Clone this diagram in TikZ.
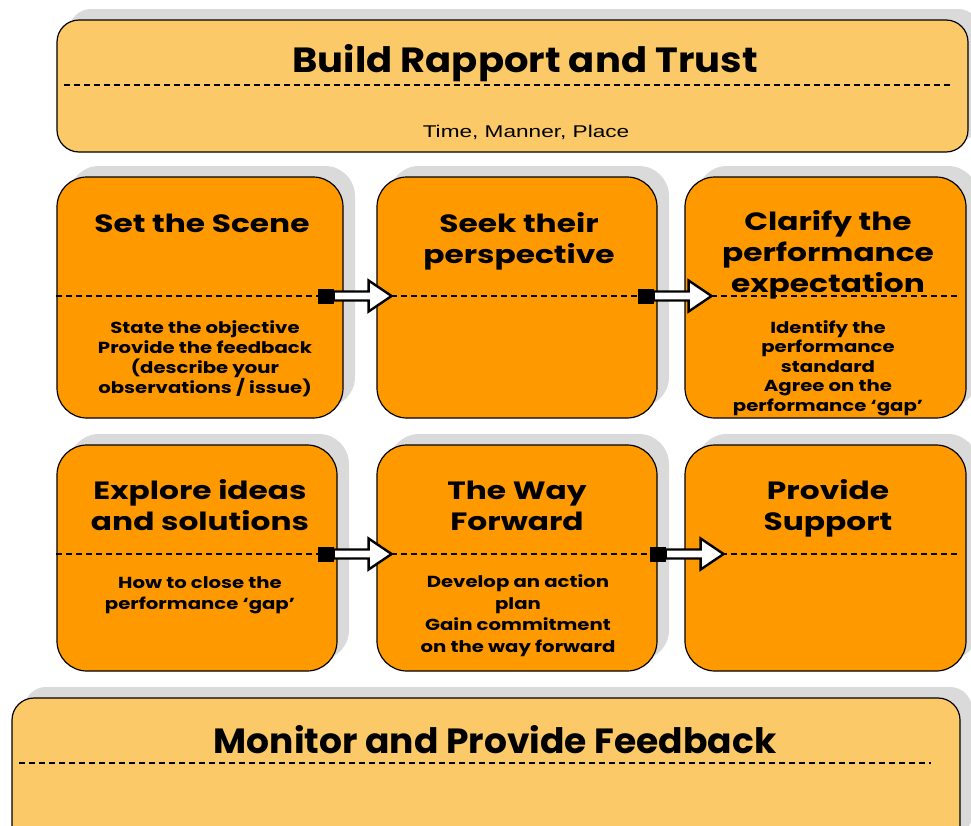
\documentclass[tikz,border=0pt]{standalone}
\usepackage{fontspec}
\setmainfont{Poppins}
\newfontfamily\gfont{Poppins}[FakeStretch=1.25]
\newfontfamily\bfont{Poppins}[FakeStretch=1.23]
\newfontfamily\cfont{Poppins}[FakeStretch=1.1]
\newfontfamily\dfont{Poppins}[FakeStretch=1.03]
\newfontfamily\afont{Liberation Sans}[FakeStretch=1.33]
\usetikzlibrary{calc,shadows}
\definecolor{boxorange}{RGB}{255,153,0}
\definecolor{boxlight}{RGB}{251,201,103}
\definecolor{shadowgray}{RGB}{218,218,218}
\begin{document}
\begin{tikzpicture}[x=1pt,y=-1pt,
  shadowed/.style={general shadow={shadow xshift=12pt,shadow yshift=11pt,fill=shadowgray}},
  obox/.style={draw=black,line width=1.2pt,fill=boxorange,rounded corners=30pt,shadowed,inner sep=0pt},
  lbox/.style={draw=black,line width=1.2pt,fill=boxlight,rounded corners=22pt,shadowed,inner sep=0pt},
  dline/.style={line width=1.1pt,dash pattern=on 6pt off 4pt},
  ttl/.style={font=\gfont\bfseries\fontsize{25}{31}\selectfont,align=center,anchor=base,inner sep=0pt},
  bdy/.style={font=\bfont\bfseries\fontsize{16}{20}\selectfont,align=center,anchor=base,inner sep=0pt},
  tailbox/.style={fill=black},
  shaft/.style={fill=white,draw=black,line width=2.4pt,line join=miter},
]
\clip (0,0) rectangle (971,825);
\fill[white] (0,0) rectangle (971,825);

% boxes
\node[lbox,minimum width=911pt,minimum height=132pt] (top) at (512.5,86) {};
\node[obox,minimum width=286pt,minimum height=241pt] (A) at (200,297.5) {};
\node[obox,minimum width=280pt,minimum height=241pt] (B) at (517,297.5) {};
\node[obox,minimum width=281pt,minimum height=241pt] (C) at (825.5,297.5) {};
\node[obox,minimum width=280pt,minimum height=226pt] (D) at (197,558) {};
\node[obox,minimum width=280pt,minimum height=226pt] (E) at (517,558) {};
\node[obox,minimum width=281pt,minimum height=226pt] (F) at (825.5,558) {};
\node[lbox,minimum width=948pt,minimum height=150pt] (bot) at (486,773) {};

% dashed lines
\draw[dline] ($(top.west)+(8,-1)$) -- ($(top.east)+(-18,-1)$);
\draw[dline] ($(A.west)+(0,-1.5)$) -- ($(A.east)+(-26,-1.5)$);
\draw[dline] ($(B.west)+(15,-1.5)$) -- ($(B.east)+(-20,-1.5)$);
\draw[dline] ($(C.west)+(27,-1.5)$) -- ($(C.east)+(-6,-1.5)$);
\draw[dline] ($(D.west)+(0,-4)$) -- ($(D.east)+(-20,-4)$);
\draw[dline] ($(E.west)+(15,-4)$) -- ($(E.east)+(-7,-4)$);
\draw[dline] ($(F.west)+(37,-4)$) -- ($(F.east)+(-6,-4)$);
\draw[dline] ($(bot.west)+(8,-10)$) -- ($(bot.east)+(-30,-10)$);

% arrows
\foreach \s/\e/\dy/\dx in {A/B/-1.5/-26, B/C/-1.5/-20, D/E/-4/-20, E/F/-4/-8}{
  \coordinate (t) at ($(\s.east)+(\dx,\dy)$);
  \fill[tailbox] ($(t)+(0,-7.5)$) rectangle ($(t)+(16,7.5)$);
  \draw[shaft] ($(t)+(16,-4.5)$) -- ++(35,0) -- ++(0,-11) -- ++(23,15.5) -- ++(-23,15.5) -- ++(0,-11) -- ++(-35,0) -- cycle;
}

% texts
\node[font=\cfont\bfseries\fontsize{35}{40}\selectfont,anchor=base,inner sep=0pt] (ttop) at (525,72) {Build Rapport and Trust};
\node[font=\afont\fontsize{17}{20}\selectfont,anchor=base,inner sep=0pt] (stop) at (526,137) {Time, Manner, Place};

\node[ttl] (tA) at (202,232) {Set the Scene};
\node[bdy] (bA) at (205,393) {State the objective\\Provide the feedback\\(describe your\\observations / issue)};

\node[ttl] (tB) at (519,263) {Seek their\\perspective};

\node[ttl] (tC) at (828,292) {Clarify the\\performance\\expectation};
\node[bdy,font=\bfont\bfseries\fontsize{16}{19.5}\selectfont] (bC) at (828,411) {Identify the\\performance\\standard\\Agree on the\\performance ‘gap’};

\node[ttl] (tD) at (200,530) {Explore ideas\\and solutions};
\node[bdy,font=\bfont\bfseries\fontsize{16}{21}\selectfont] (bD) at (200,609) {How to close the\\performance ‘gap’};

\node[ttl] (tE) at (517,530) {The Way\\Forward};
\node[bdy,font=\bfont\bfseries\fontsize{16}{21.5}\selectfont] (bE) at (518,652) {Develop an action\\plan\\Gain commitment\\on the way forward};

\node[ttl] (tF) at (828,530) {Provide\\Support};

\node[font=\dfont\bfseries\fontsize{35}{40}\selectfont,anchor=base,inner sep=0pt] (tbot) at (495,753) {Monitor and Provide Feedback};
\end{tikzpicture}
\end{document}
